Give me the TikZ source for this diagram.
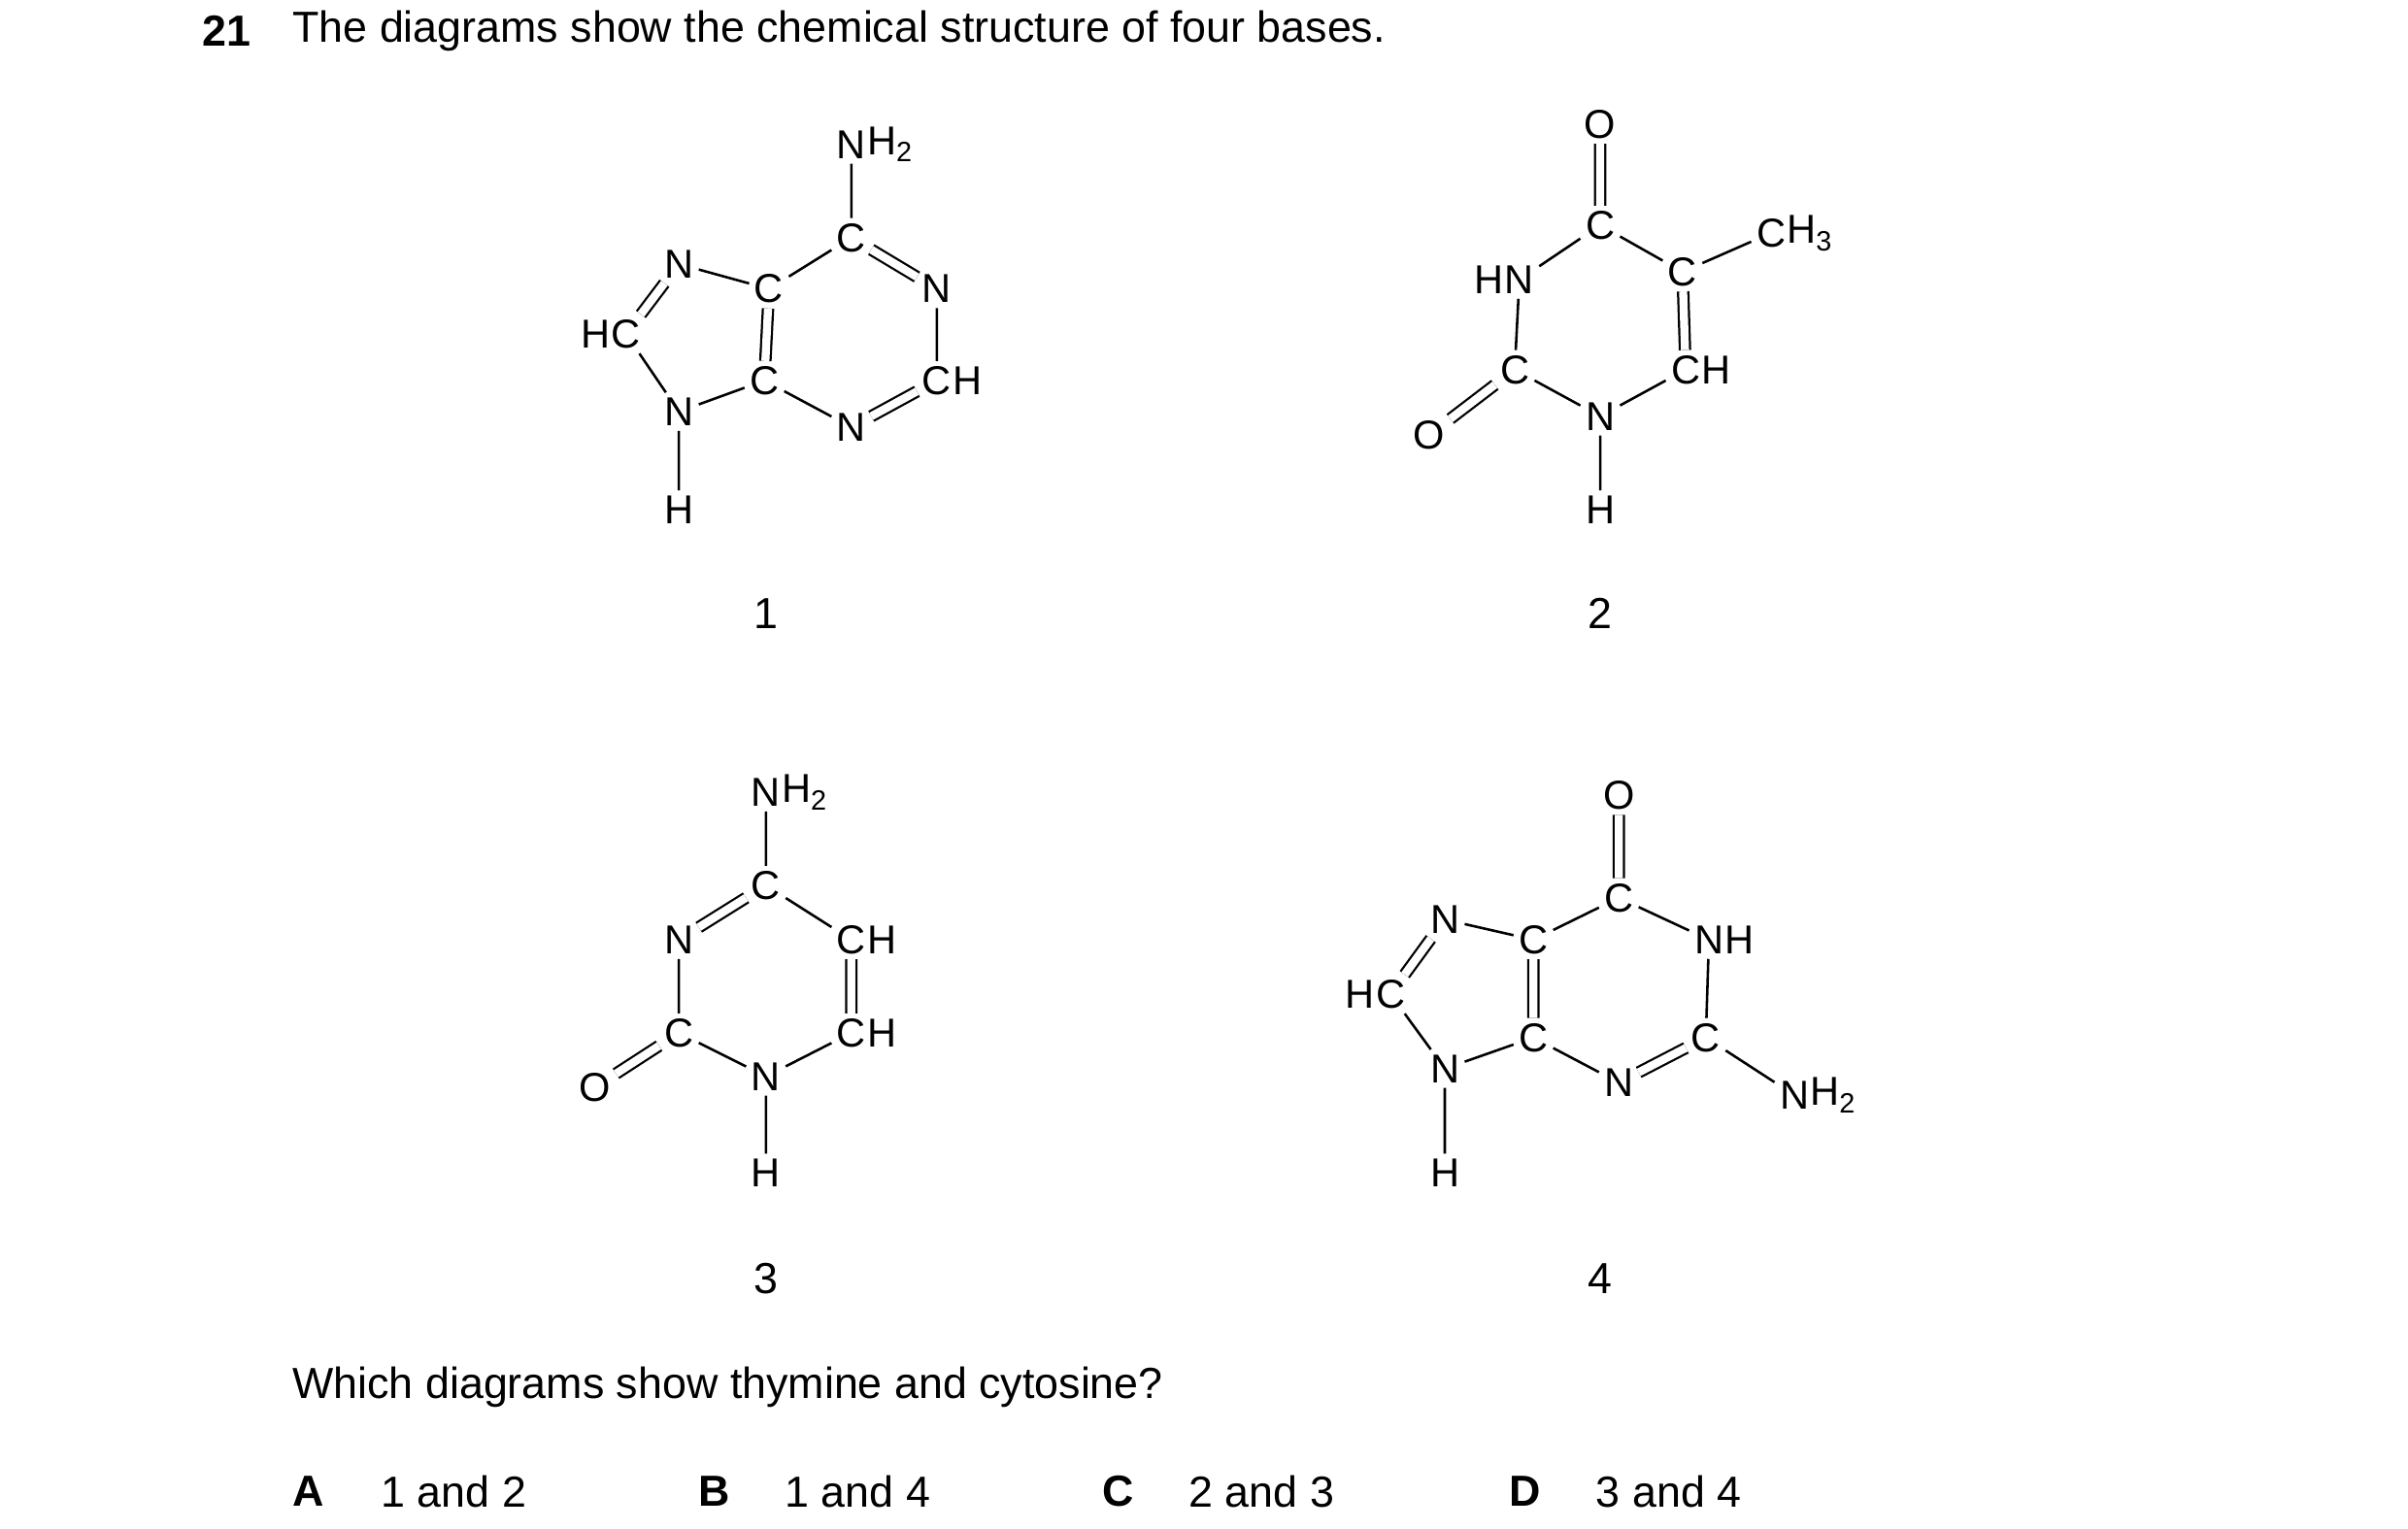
\documentclass[tikz,border=0pt]{standalone}
\usepackage{fontspec}
\setmainfont{Liberation Sans}
\tikzset{
  atom/.style={inner sep=1.5pt, font=\fontsize{13}{15}\selectfont},
  hyd/.style={inner sep=0pt, font=\fontsize{13}{15}\selectfont},
  hr/.style={hyd, anchor=west, xshift=-1.5pt},
  hl/.style={hyd, anchor=east, xshift=1.5pt},
  bond/.style={line width=0.8pt},
  dbond/.style={line width=0.7pt, double, double distance=2.6pt},
  txt/.style={anchor=west, inner sep=0pt, font=\fontsize{14}{16}\selectfont},
}
\newcommand{\sub}[1]{\raisebox{-0.35ex}{\fontsize{9}{10}\selectfont #1}}
\begin{document}
\begin{tikzpicture}[x=0.5pt,y=-0.5pt]
  \useasboundingbox (0,0) rectangle (1550,984);

  % Heading
  \node[txt,font=\fontsize{14}{16}\selectfont\bfseries] (qnum) at (130,20) {21};
  \node[txt] (head) at (188,20) {The diagrams show the chemical structure of four bases.};

  % Structure 1
  \node[atom] (a1) at (548,93) {N};
  \node[hr] at (a1.east) {H\sub{2}};
  \node[atom] (a2) at (548,153) {C};
  \node[atom] (a3) at (603,186) {N};
  \node[atom] (a4) at (603,245) {C};
  \node[hr] at (a4.east) {H};
  \node[atom] (a5) at (548,275) {N};
  \node[atom] (a6) at (492,245) {C};
  \node[atom] (a7) at (495,186) {C};
  \node[atom] (a8) at (437,170) {N};
  \node[atom] (a9) at (403,215) {C};
  \node[hl] at (a9.west) {H};
  \node[atom] (a10) at (437,265) {N};
  \node[atom] (a11) at (437,328) {H};
  \draw[bond] (a1) -- (a2) (a3) -- (a4) (a5) -- (a6) (a7) -- (a2)
    (a8) -- (a7) (a9) -- (a10) (a10) -- (a6) (a10) -- (a11);
  \draw[dbond] (a2) -- (a3) (a4) -- (a5) (a6) -- (a7) (a9) -- (a8);
  \node[txt,anchor=center] (l1) at (493,395) {1};

  % Structure 2
  \node[atom] (b1) at (1030,80) {O};
  \node[atom] (b2) at (1030,145) {C};
  \node[atom] (b3) at (1083,175) {C};
  \node[atom] (b4) at (1140,150) {C};
  \node[hr] at (b4.east) {H\sub{3}};
  \node[atom] (b5) at (1085,238) {C};
  \node[hr] at (b5.east) {H};
  \node[atom] (b6) at (1030,268) {N};
  \node[atom] (b7) at (1030,328) {H};
  \node[atom] (b8) at (975,238) {C};
  \node[atom] (b9) at (920,280) {O};
  \node[atom] (b10) at (978,180) {N};
  \node[hl] at (b10.west) {H};
  \draw[bond] (b2) -- (b3) (b3) -- (b4) (b5) -- (b6) (b6) -- (b7)
    (b6) -- (b8) (b8) -- (b10) (b10) -- (b2);
  \draw[dbond] (b1) -- (b2) (b3) -- (b5) (b8) -- (b9);
  \node[txt,anchor=center] (l2) at (1030,395) {2};

  % Structure 3
  \node[atom] (c1) at (493,510) {N};
  \node[hr] at (c1.east) {H\sub{2}};
  \node[atom] (c2) at (493,570) {C};
  \node[atom] (c3) at (548,605) {C};
  \node[hr] at (c3.east) {H};
  \node[atom] (c4) at (548,665) {C};
  \node[hr] at (c4.east) {H};
  \node[atom] (c5) at (493,693) {N};
  \node[atom] (c6) at (493,755) {H};
  \node[atom] (c7) at (437,665) {C};
  \node[atom] (c8) at (383,700) {O};
  \node[atom] (c9) at (437,605) {N};
  \draw[bond] (c1) -- (c2) (c2) -- (c3) (c4) -- (c5) (c5) -- (c6)
    (c5) -- (c7) (c7) -- (c9);
  \draw[dbond] (c3) -- (c4) (c7) -- (c8) (c9) -- (c2);
  \node[txt,anchor=center] (l3) at (493,823) {3};

  % Structure 4
  \node[atom] (d1) at (1042,512) {O};
  \node[atom] (d2) at (1042,578) {C};
  \node[atom] (d3) at (1100,605) {N};
  \node[hr] at (d3.east) {H};
  \node[atom] (d4) at (1098,668) {C};
  \node[atom] (d5) at (1155,705) {N};
  \node[hr] at (d5.east) {H\sub{2}};
  \node[atom] (d6) at (1042,697) {N};
  \node[atom] (d7) at (987,668) {C};
  \node[atom] (d8) at (987,605) {C};
  \node[atom] (d9) at (930,592) {N};
  \node[atom] (d10) at (895,640) {C};
  \node[hl] at (d10.west) {H};
  \node[atom] (d11) at (930,688) {N};
  \node[atom] (d12) at (930,755) {H};
  \draw[bond] (d2) -- (d3) (d3) -- (d4) (d4) -- (d5) (d6) -- (d7)
    (d8) -- (d2) (d9) -- (d8) (d10) -- (d11) (d11) -- (d7) (d11) -- (d12);
  \draw[dbond] (d1) -- (d2) (d4) -- (d6) (d7) -- (d8) (d10) -- (d9);
  \node[txt,anchor=center] (l4) at (1030,823) {4};

  % Question and options
  \node[txt] (ask) at (188,893) {Which diagrams show thymine and cytosine?};
  \node[txt,font=\fontsize{14}{16}\selectfont\bfseries] (oa) at (188,960) {A};
  \node[txt] (ta) at (245,960) {1 and 2};
  \node[txt,font=\fontsize{14}{16}\selectfont\bfseries] (ob) at (449,960) {B};
  \node[txt] (tb) at (505,960) {1 and 4};
  \node[txt,font=\fontsize{14}{16}\selectfont\bfseries] (oc) at (709,960) {C};
  \node[txt] (tc) at (765,960) {2 and 3};
  \node[txt,font=\fontsize{14}{16}\selectfont\bfseries] (od) at (971,960) {D};
  \node[txt] (td) at (1027,960) {3 and 4};
\end{tikzpicture}
\end{document}
